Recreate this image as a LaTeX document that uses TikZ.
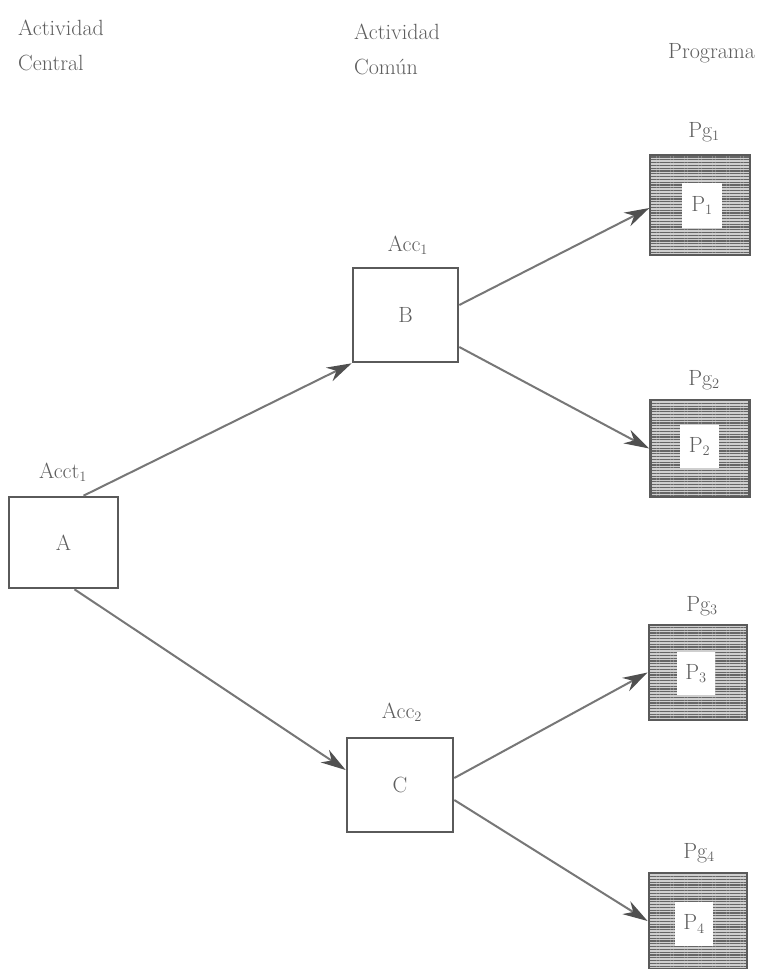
\documentclass[tikz,border=0pt]{standalone}
\usetikzlibrary{arrows.meta,patterns.meta,calc}
\definecolor{ink}{HTML}{5E5E5E}
\definecolor{boxline}{HTML}{5A5A5A}
\definecolor{arrline}{HTML}{777777}
\definecolor{arrhead}{HTML}{505050}
\begin{document}
\begin{tikzpicture}[x=1pt,y=-1pt,
  every node/.style={text=ink,font=\fontsize{22}{35}\selectfont},
  actbox/.style={draw=boxline,line width=2.6pt,fill=white,inner sep=0pt},
  progbox/.style={draw=boxline,line width=2.8pt,inner sep=0pt,
    preaction={fill=gray!38},
    pattern={Lines[angle=0,distance=2.8pt,line width=1.3pt]},pattern color=gray!80!black},
  inbox/.style={fill=white,inner sep=0pt},
  lbl/.style={inner sep=0pt},
  conn/.style={draw=arrline,line width=2pt,
    -{Stealth[length=25pt,width=15pt,inset=8pt,color=arrhead]}}
]
\useasboundingbox (0,0) rectangle (756,969);
\fill[white] (0,0) rectangle (756,969);

% headers
\node[lbl,anchor=north west,align=left] (h1) at (18,20) {Actividad\\Central};
\node[lbl,anchor=north west,align=left] (h2) at (354,24) {Actividad\\Común};
\node[lbl,anchor=west] (h3) at (668,53) {Programa};

% activity boxes
\node[actbox,minimum width=109pt,minimum height=91pt] (A) at (63.5,542.5) {A};
\node[actbox,minimum width=105pt,minimum height=94pt] (B) at (405.5,315) {B};
\node[actbox,minimum width=106pt,minimum height=94pt] (C) at (400,785) {C};

\node[lbl] (lA) at (63,472) {Acct$_1$};
\node[lbl] (lB) at (408,245) {Acc$_1$};
\node[lbl] (lC) at (402,712) {Acc$_2$};

% program boxes
\node[progbox,minimum width=100pt,minimum height=100pt] (P1) at (700,205) {};
\node[progbox,minimum width=99pt,minimum height=97pt] (P2) at (700,448.5) {};
\node[progbox,minimum width=98pt,minimum height=95pt] (P3) at (698,672.5) {};
\node[progbox,minimum width=98pt,minimum height=96pt] (P4) at (698,921) {};

\node[inbox,minimum width=40pt,minimum height=45pt] (i1) at (702,205.5) {P$_1$};
\node[inbox,minimum width=39pt,minimum height=43pt] (i2) at (699.5,446.5) {P$_2$};
\node[inbox,minimum width=38pt,minimum height=43pt] (i3) at (696,673.5) {P$_3$};
\node[inbox,minimum width=38pt,minimum height=44pt] (i4) at (694,924) {P$_4$};

\node[lbl] (l1) at (704,132) {Pg$_1$};
\node[lbl] (l2) at (704,380) {Pg$_2$};
\node[lbl] (l3) at (702,606) {Pg$_3$};
\node[lbl] (l4) at (699,853) {Pg$_4$};

% connectors
\draw[conn] ([xshift=20pt]A.north) -- (B.south west);
\draw[conn] ([xshift=11pt]A.south) -- ([yshift=15pt]C.west);
\draw[conn] ([yshift=10pt]B.east) -- ([yshift=-3pt]P1.west);
\draw[conn] ([yshift=-32pt]B.east) -- (P2.west);
\draw[conn] ([yshift=7pt]C.east) -- (P3.west);
\draw[conn] ([yshift=-15pt]C.east) -- (P4.west);
\end{tikzpicture}
\end{document}
